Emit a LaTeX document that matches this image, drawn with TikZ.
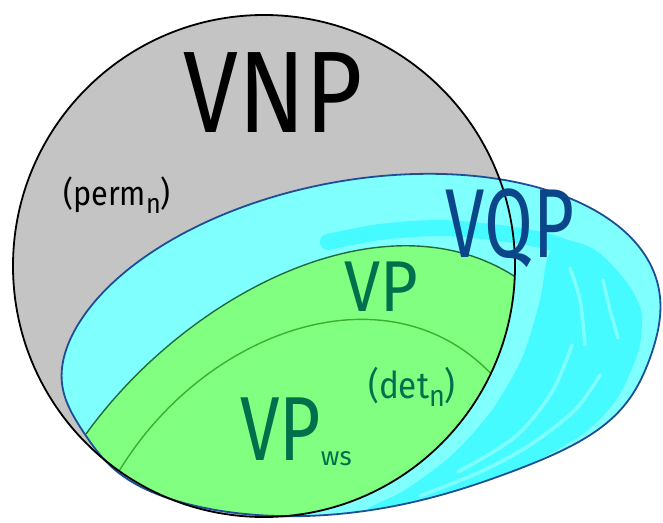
\documentclass[tikz,border=0pt]{standalone}
\usepackage{fontspec}
\setmainfont{Fira Sans}
\definecolor{vnpgray}{HTML}{C4C4C4}
\definecolor{vqpcyan}{HTML}{80FFFF}
\definecolor{scrib}{HTML}{45FBFF}
\definecolor{vpgreen}{HTML}{80FF80}
\definecolor{vptext}{HTML}{00704C}
\definecolor{vqptext}{HTML}{0C468A}
\definecolor{vqpline}{HTML}{1E4F96}
\definecolor{vpline}{HTML}{236B3E}
\definecolor{wsline}{HTML}{3CB02A}
\begin{document}
\begin{tikzpicture}[x=1pt,y=-1pt,
  declare function={fq(\t)=1+0.055*max(0,cos(\t-45))^20-0.03*max(0,cos(\t-167))^24;},
  scribble/.style={draw=scrib,line cap=round,line join=round},
  gap/.style={draw=vqpcyan,line cap=round,line join=round,line width=3.5pt},
  lbl/.style={inner sep=0pt}]
\useasboundingbox (0,0) rectangle (663,522);
\fill[white] (0,0) rectangle (663,522);
\def\vnppath{(264,266) circle[radius=251pt]}
\def\vqppath{plot[domain=0:360,samples=145,smooth,variable=\t] ({360+fq(\t)*(304*cos(\t)*0.983+164.6*sin(\t)*0.184)},{345+fq(\t)*(-304*cos(\t)*0.184+164.6*sin(\t)*0.983)}) -- cycle}
% VNP
\fill[vnpgray] \vnppath;
% VQP
\fill[vqpcyan] \vqppath;
\begin{scope}
  \clip \vqppath;
  \fill[scrib] plot[smooth cycle] coordinates {(368,509) (420,501) (480,484) (540,459) (588,430) (618,397) (638,352) (642,316) (632,290) (612,265) (592,248) (565,241) (548,256) (540,300) (522,358) (492,410) (452,455) (405,490)};
  \draw[gap] plot[smooth] coordinates {(458,472) (515,437) (552,392) (572,345)};
  \draw[gap] plot[smooth] coordinates {(420,496) (480,472) (530,445) (575,410) (600,375)};
  \draw[gap] plot[smooth] coordinates {(570,268) (580,300) (585,345)};
  \draw[gap] plot[smooth] coordinates {(603,280) (610,310) (618,338)};
  \draw[scribble,line width=16pt] plot[smooth] coordinates {(328,242) (380,232) (440,228) (500,233) (545,241) (578,252)};
\end{scope}
% VP
\begin{scope}
  \clip \vnppath;
  \clip \vqppath;
  \fill[vpgreen] (86,434) .. controls (190,290) and (390,190) .. (520,280) -- (700,600) -- (0,600) -- cycle;
  \draw[vpline,line width=1.4pt] (86,434) .. controls (190,290) and (390,190) .. (520,280);
  \draw[wsline,line width=1.4pt] (115,478) .. controls (200,330) and (390,262) .. (495,378);
\end{scope}
\draw[vqpline,line width=1.8pt] \vqppath;
\draw[black,line width=1.8pt] \vnppath;
% labels
\node[lbl,font=\fontsize{116}{116}\selectfont] (vnp) at (273,93) {\scalebox{0.85}[1]{VNP}};
\node[lbl,font=\fontsize{34}{34}\selectfont] (perm) at (117,195) {\scalebox{0.9}[1]{(perm\raisebox{-8pt}{\fontsize{28}{28}\selectfont n})}};
\node[lbl,font=\fontsize{98}{98}\selectfont,text=vqptext] (vqp) at (510,228) {\scalebox{0.72}[1]{VQP}};
\node[lbl,font=\fontsize{72}{72}\selectfont,text=vptext] (vp) at (381,287) {\scalebox{0.9}[1]{VP}};
\node[lbl,font=\fontsize{91}{91}\selectfont,text=vptext,anchor=base west] (vpws) at (240,460) {\scalebox{0.78}[1]{VP}\raisebox{-5pt}{\fontsize{26}{26}\selectfont ws}};
\node[lbl,font=\fontsize{37}{37}\selectfont,text=vptext] (det) at (412,387) {\scalebox{0.9}[1]{(det\raisebox{-8pt}{\fontsize{30}{30}\selectfont n})}};
\end{tikzpicture}
\end{document}
